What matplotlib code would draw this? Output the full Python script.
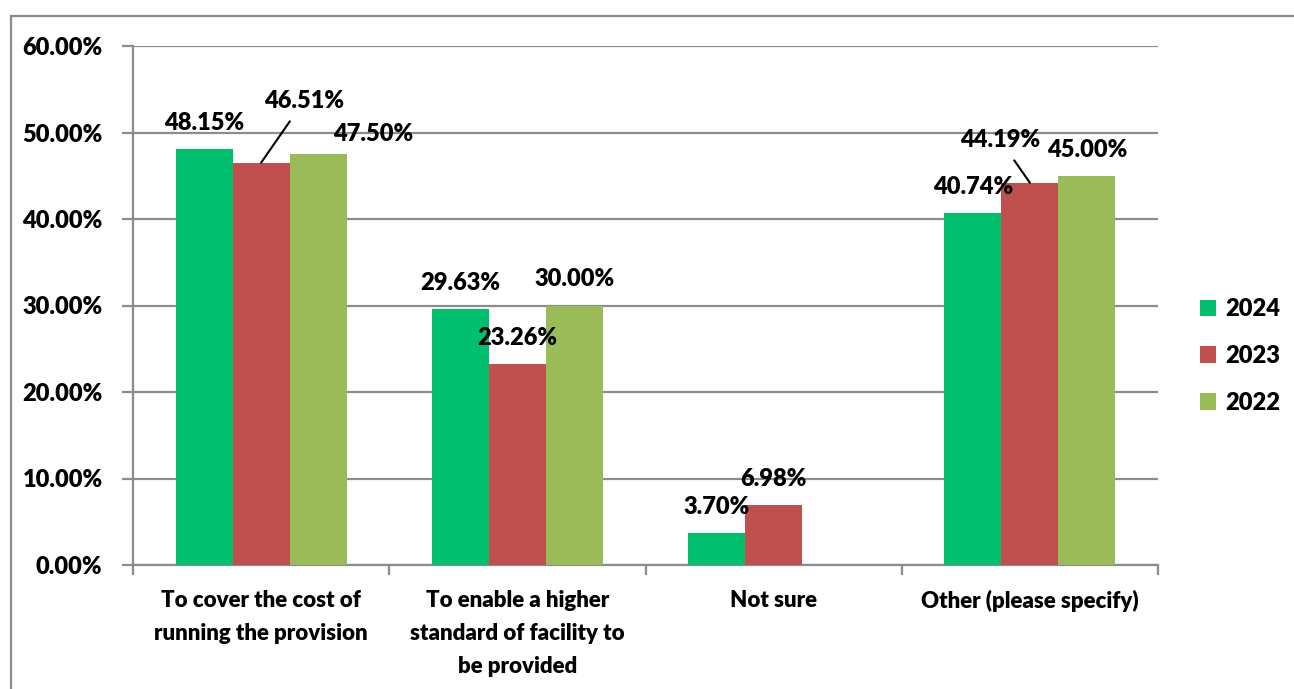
import matplotlib
matplotlib.use("Agg")
import matplotlib.pyplot as plt
from matplotlib.lines import Line2D
from matplotlib.ticker import FuncFormatter, MultipleLocator
import numpy as np

categories = [
    "To cover the cost of\nrunning the provision",
    "To enable a higher\nstandard of facility to\nbe provided",
    "Not sure",
    "Other (please specify)",
]
years = ["2024", "2023", "2022"]
vals_2024 = [48.15, 29.63, 3.70, 40.74]
vals_2023 = [46.51, 23.26, 6.98, 44.19]
vals_2022 = [47.50, 30.00, 0.0, 45.00]

colors = ["#00BF6F", "#C0504D", "#9BBB59"]
grid_gray = "#8C8C8C"
FS = 16
FS_NUM = 17
WEIGHT = "heavy"

# label offsets in pixels from the top centre of each bar
label_offsets = {
    ("2023", 0): (43, 62),
    ("2022", 0): (55, 20),
    ("2023", 3): (-30, 43),
}
leader_lines = {("2023", 0), ("2023", 3)}

plt.rcParams["font.family"] = ["Lato", "DejaVu Sans"]
plt.rcParams["font.weight"] = WEIGHT

fig = plt.figure(figsize=(12.94, 6.89), dpi=100)
ax = fig.add_axes([133 / 1294, 1 - 565 / 689, 1025 / 1294, 519 / 689])

# outer frame (left and top edges only)
fig.add_artist(Line2D([11 / 1294, 11 / 1294], [-0.01, 1 - 16 / 689],
                      transform=fig.transFigure, color=grid_gray, lw=1.6))
fig.add_artist(Line2D([11 / 1294, 1.01], [1 - 16 / 689, 1 - 16 / 689],
                      transform=fig.transFigure, color=grid_gray, lw=1.6))

x = np.arange(len(categories))
width = 0.2227
series = [vals_2024, vals_2023, vals_2022]

for i, (year, vals, col) in enumerate(zip(years, series, colors)):
    xs = x + (i - 1) * width
    ax.bar(xs, vals, width, color=col, label=year, zorder=3)
    for j, v in enumerate(vals):
        if v == 0:
            continue
        dx, dy = label_offsets.get((year, j), (0, 26))
        arrow = None
        if (year, j) in leader_lines:
            arrow = dict(arrowstyle="-", color="black", lw=1.5,
                         shrinkA=6, shrinkB=0)
        ax.annotate(f"{v:.2f}%", xy=(xs[j], v), xytext=(dx, dy),
                    textcoords="offset pixels", ha="center", va="center",
                    fontsize=FS_NUM, fontweight=WEIGHT, color="black",
                    arrowprops=arrow, zorder=5)

ax.set_xlim(-0.5, len(categories) - 0.5)
ax.set_ylim(0, 60)
ax.yaxis.set_major_locator(MultipleLocator(10))
ax.yaxis.set_major_formatter(FuncFormatter(lambda v, p: f"{v:.2f}%"))
ax.grid(axis="y", color=grid_gray, lw=1.6, zorder=0)
ax.set_axisbelow(True)

ax.set_xticks(x)
ax.set_xticklabels(categories, fontsize=FS, fontweight=WEIGHT, linespacing=1.7)
ax.set_xticks(np.arange(-0.5, len(categories)), minor=True)
ax.tick_params(axis="x", which="major", length=0, pad=18)
ax.tick_params(axis="x", which="minor", length=7, width=1.6, color=grid_gray)
ax.tick_params(axis="y", length=8, width=1.6, color=grid_gray, pad=14,
               labelsize=FS_NUM)

for side in ["top", "right"]:
    ax.spines[side].set_visible(False)
for side in ["left", "bottom"]:
    ax.spines[side].set_color(grid_gray)
    ax.spines[side].set_linewidth(1.6)

leg = ax.legend(loc="center left", bbox_to_anchor=(1.02, 0.403),
                frameon=False, fontsize=FS_NUM, handlelength=0.7,
                handleheight=0.7, handletextpad=0.4, labelspacing=1.05)

fig.savefig("out.png", dpi=100)
